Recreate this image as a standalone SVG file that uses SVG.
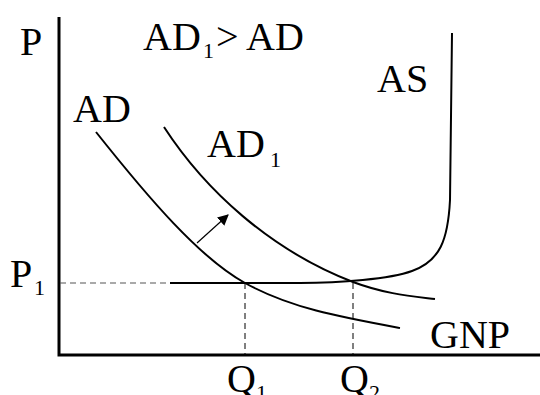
<svg xmlns="http://www.w3.org/2000/svg" width="540" height="395" viewBox="0 0 540 395">
<style>
text{font-family:"Liberation Serif","Times New Roman",serif;fill:#000}
.lb{font-size:40px}
.sb{font-size:22px}
.axis{stroke:#000;stroke-width:3;fill:none}
.curve{stroke:#000;stroke-width:2;fill:none}
.dash{stroke:#000;stroke-width:1;stroke-dasharray:6,4;fill:none}
.dashg{stroke:#555;stroke-width:1.2;stroke-dasharray:6,4;fill:none}
</style>
<defs>
<marker id="ah" viewBox="0 0 10 10" refX="9" refY="5" markerWidth="11" markerHeight="11" markerUnits="userSpaceOnUse" orient="auto">
<path d="M0,0 L10,5 L0,10 z" fill="#000"/>
</marker>
</defs>
<g id="axes">
<path class="axis" d="M59,17 L59,355 L540,355"/>
</g>
<g id="connectors">
<path class="dashg" d="M60,283 L170,283"/>
<path class="dash" d="M245,283 L245,354"/>
<path class="dash" d="M353,283 L353,354"/>
<path d="M197,243 L228,215" stroke="#000" stroke-width="1.2" marker-end="url(#ah)"/>
</g>
<g id="AS">
<path class="curve" d="M170,283 L300,283 C340,283 390,279 412,271 C440,261 448,240 450,200 L452,33"/>
</g>
<g id="AD">
<path class="curve" d="M96,132 C150,200 200,258 245,283 C290,308 340,317 400,328"/>
</g>
<g id="AD1">
<path class="curve" d="M164,127 C205,190 270,250 353,282 C385,294 410,296 435,299"/>
</g>
<g id="labels">
<text class="lb" x="20" y="55">P</text>
<text class="lb" x="143" y="50">AD</text>
<text class="sb" x="203" y="58">1</text>
<text class="lb" x="216" y="50">&gt;</text>
<text class="lb" x="246" y="50">AD</text>
<text class="lb" x="377" y="92">AS</text>
<text class="lb" x="73" y="122">AD</text>
<text class="lb" x="207" y="157">AD</text>
<text class="sb" x="270" y="167">1</text>
<text class="lb" x="10" y="287">P</text>
<text class="sb" x="34" y="295">1</text>
<text class="lb" x="430" y="348">GNP</text>
<text class="lb" x="227" y="392">Q</text>
<text class="sb" x="256" y="400">1</text>
<text class="lb" x="340" y="392">Q</text>
<text class="sb" x="369" y="400">2</text>
</g>
</svg>
